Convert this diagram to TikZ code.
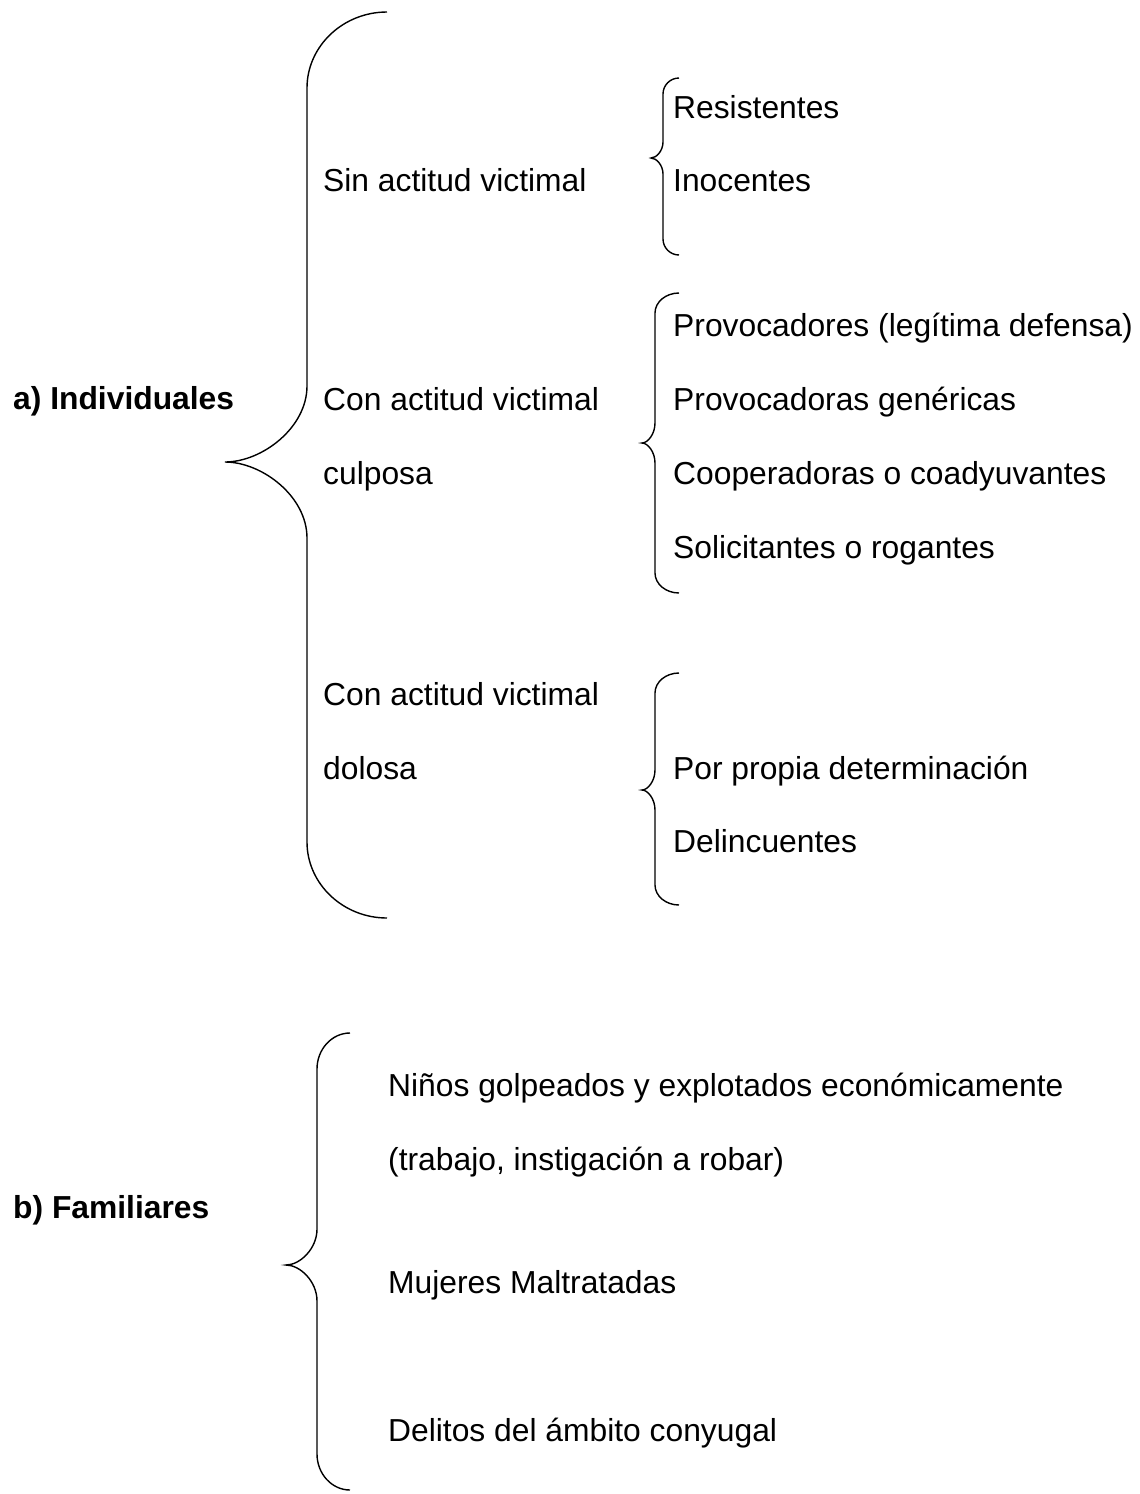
\documentclass[tikz,border=0pt]{standalone}
\usepackage{fontspec}
\setmainfont{Liberation Sans}
\newcommand{\drawbrace}[7]{%
\draw[bracestyle] (#1,#4) .. controls ({#1-0.55*(#1-#2)},#4) and (#2,{#4+0.45*#7}) .. (#2,{#4+#7})
 -- (#2,{#5-#7})
 .. controls (#2,{#5-0.45*#7}) and ({#3+0.45*(#2-#3)},#5) .. (#3,#5)
 .. controls ({#3+0.45*(#2-#3)},#5) and (#2,{#5+0.45*#7}) .. (#2,{#5+#7})
 -- (#2,{#6-#7})
 .. controls (#2,{#6-0.45*#7}) and ({#1-0.55*(#1-#2)},#6) .. (#1,#6);}
\begin{document}
\begin{tikzpicture}[x=1pt,y=-1pt,
  bracestyle/.style={draw=black,line width=1.4pt},
  lbl/.style={anchor=base west,inner sep=0pt,font=\fontsize{31.8}{38}\selectfont},
  head/.style={lbl,font=\fontsize{31.8}{38}\selectfont\bfseries}]
\useasboundingbox[fill=white] (0,0) rectangle (1140,1494);
% braces
\drawbrace{387}{307}{225}{12}{462}{918}{76}
\drawbrace{679}{663}{651}{78}{158}{255}{16}
\drawbrace{679}{655}{642}{293}{443}{593}{20}
\drawbrace{679}{655}{642}{673}{790}{905}{20}
\drawbrace{350}{317}{286}{1033}{1265}{1490}{36}
% texts
\node[head] (a) at (13,409) {a) Individuales};
\node[lbl] (s1) at (323,191) {Sin actitud victimal};
\node[lbl] (s2a) at (323,410) {Con actitud victimal};
\node[lbl] (s2b) at (323,484) {culposa};
\node[lbl] (s3a) at (323,705) {Con actitud victimal};
\node[lbl] (s3b) at (323,779) {dolosa};
\node[lbl] (r1) at (673,118) {Resistentes};
\node[lbl] (r2) at (673,191) {Inocentes};
\node[lbl] (p1) at (673,336) {Provocadores (legítima defensa)};
\node[lbl] (p2) at (673,410) {Provocadoras genéricas};
\node[lbl] (p3) at (673,484) {Cooperadoras o coadyuvantes};
\node[lbl] (p4) at (673,558) {Solicitantes o rogantes};
\node[lbl] (d1) at (673,779) {Por propia determinación};
\node[lbl] (d2) at (673,852) {Delincuentes};
\node[head] (b) at (13,1218) {b) Familiares};
\node[lbl] (f1) at (388,1096) {Niños golpeados y explotados económicamente};
\node[lbl] (f2) at (388,1170) {(trabajo, instigación a robar)};
\node[lbl] (f3) at (388,1293) {Mujeres Maltratadas};
\node[lbl] (f4) at (388,1441) {Delitos del ámbito conyugal};
\end{tikzpicture}
\end{document}
